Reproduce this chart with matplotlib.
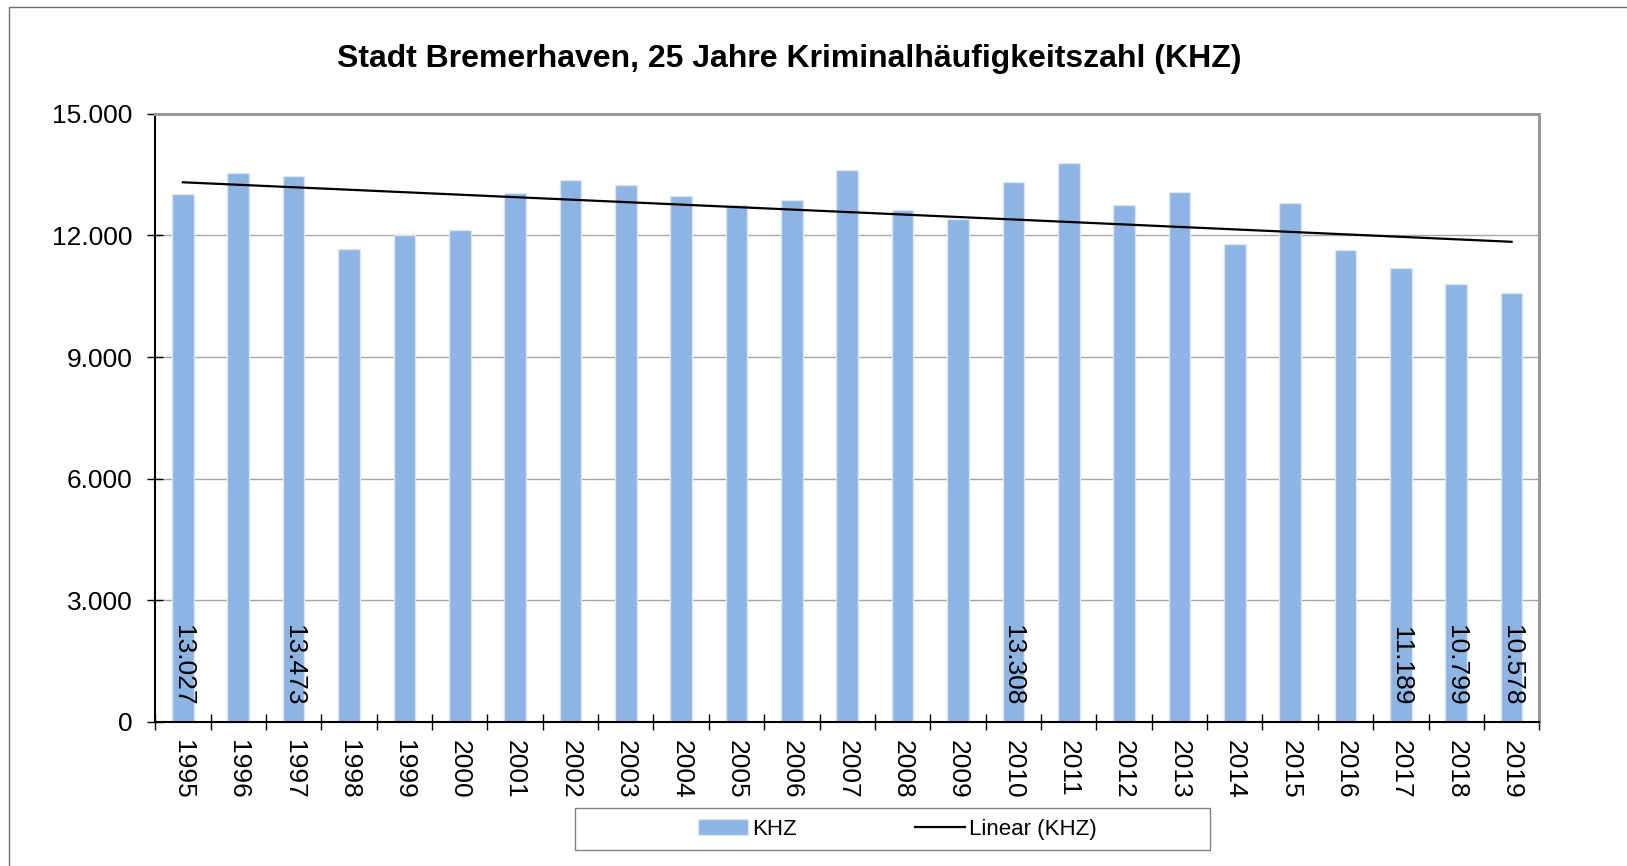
import matplotlib
matplotlib.use("Agg")
import matplotlib.pyplot as plt
from matplotlib.lines import Line2D
from matplotlib.patches import Rectangle
import numpy as np

plt.rcParams['font.family'] = ['Liberation Sans', 'DejaVu Sans']

years = [str(y) for y in range(1995, 2020)]
khz = [13027, 13540, 13473, 11655, 12015, 12131, 13044, 13364, 13234, 12962,
       12740, 12871, 13611, 12632, 12410, 13308, 13791, 12740, 13068, 11778,
       12790, 11630, 11189, 10799, 10578]
labeled_years = ['1995', '1997', '2010', '2017', '2018', '2019']
title = "Stadt Bremerhaven, 25 Jahre Kriminalhäufigkeitszahl (KHZ)"

def de_fmt(v):
    return f"{v:,.0f}".replace(",", ".")

fig = plt.figure(figsize=(16.27, 8.66), dpi=100)
ax = fig.add_axes([0.0954, 0.1663, 0.8507, 0.7024])

x = np.arange(len(years))
bars = ax.bar(x, khz, width=0.39, color='#8EB4E3', edgecolor='#DCE6F2',
              linewidth=1, label='KHZ', zorder=2)

# linear trend
k, d = np.polyfit(x, khz, 1)
trend, = ax.plot([x[0], x[-1]], [d, k * x[-1] + d], color='black', lw=1.6,
                 label='Linear (KHZ)', zorder=3)

for i, yr in enumerate(years):
    if yr in labeled_years:
        ax.annotate(de_fmt(khz[i]), (x[i], 0), xytext=(0, 12),
                    textcoords='offset points', rotation=270,
                    ha='center', va='bottom', fontsize=19, zorder=4)

ax.set_xlim(-0.5, len(years) - 0.5)
ax.set_ylim(0, 15000)
ax.set_yticks(np.arange(0, 15001, 3000))
ax.set_yticklabels([de_fmt(v) for v in np.arange(0, 15001, 3000)])
ax.yaxis.grid(True, color='#A6A6A6', lw=1)
ax.set_axisbelow(True)

ax.set_xticks(np.arange(-0.5, len(years), 1.0))
ax.set_xticklabels([])
ax.set_xticks(x, minor=True)
ax.set_xticklabels(years, minor=True, rotation=270, fontsize=19)
ax.tick_params(axis='x', which='major', direction='inout', length=11, width=1)
ax.tick_params(axis='x', which='minor', length=0, pad=13)
ax.tick_params(axis='y', direction='inout', length=11, width=1, pad=11,
               labelsize=19)

for s in ['top', 'right']:
    ax.spines[s].set_color('#999999')
    ax.spines[s].set_linewidth(2.2)
for s in ['left', 'bottom']:
    ax.spines[s].set_color('black')
    ax.spines[s].set_linewidth(1.5)

fig.text(0.485, 0.932, title, ha='center', va='center', fontsize=23,
         fontweight='bold')

fig.legend(handles=[bars, trend], loc='center', bbox_to_anchor=(0.5516, 0.0427),
           ncol=2, frameon=False, fontsize=16, handlelength=2.25,
           handletextpad=0.2, columnspacing=5.3)
fig.patches.append(Rectangle((0.3534, 0.0185), 0.3903, 0.0485,
                             transform=fig.transFigure, fill=False,
                             edgecolor='#808080', lw=1))

# outer chart border (top and left visible)
bx = 9.3 / 1627
by = 1 - 7.3 / 866
fig.lines.append(Line2D([bx, bx, 1], [0, by, by], transform=fig.transFigure,
                        color='#707070', lw=1))

fig.savefig('out.png', dpi=100)
